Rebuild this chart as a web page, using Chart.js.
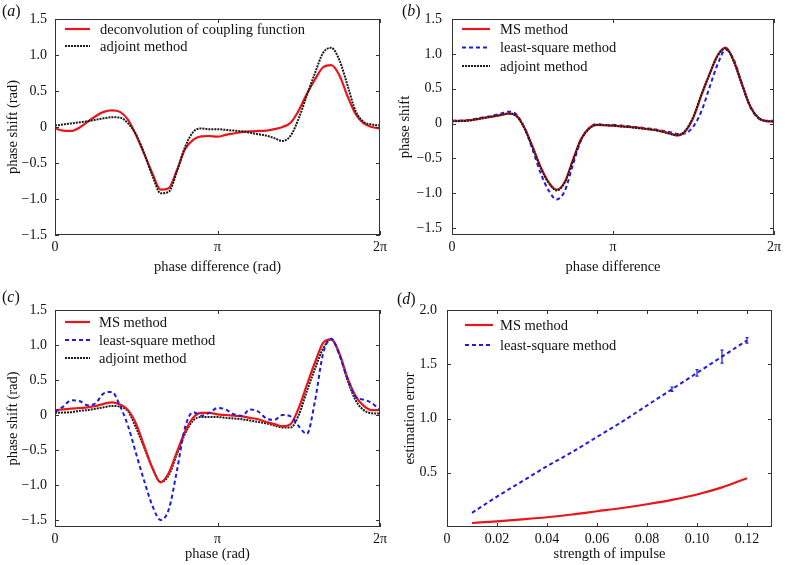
<!DOCTYPE html>
<html>
<head>
<meta charset="utf-8">
<script src="https://cdn.jsdelivr.net/npm/chart.js@4.4.0/dist/chart.umd.min.js"></script>
<style>
  body { margin: 0; background: #fff; width: 785px; height: 565px; position: relative; overflow: hidden; }
  canvas { position: absolute; }
  .tag { position: absolute; font: 16px "Liberation Serif", serif; line-height: 16px; color: #111; }
</style>
</head>
<body>
<canvas id="pa" width="392" height="280" style="left:0;top:0"></canvas>
<canvas id="pb" width="393" height="280" style="left:392px;top:0"></canvas>
<canvas id="pc" width="392" height="285" style="left:0;top:280px"></canvas>
<canvas id="pd" width="395" height="285" style="left:390px;top:280px"></canvas>
<div class="tag" style="left:2px;top:3px">(<i>a</i>)</div>
<div class="tag" style="left:402px;top:3px">(<i>b</i>)</div>
<div class="tag" style="left:2px;top:289px">(<i>c</i>)</div>
<div class="tag" style="left:397px;top:291px">(<i>d</i>)</div>
<script>
// phase in units of pi
const phase = [0, 0.05, 0.1, 0.15, 0.2, 0.25, 0.3, 0.35, 0.4, 0.45, 0.5, 0.55, 0.6, 0.65, 0.7, 0.75, 0.8, 0.85, 0.9, 0.95,
  1, 1.05, 1.1, 1.15, 1.2, 1.25, 1.3, 1.35, 1.4, 1.45, 1.5, 1.55, 1.6, 1.65, 1.7, 1.75, 1.8, 1.85, 1.9, 1.95, 2];

// (a)
const aDeconv = [-0.02, -0.05, -0.055, -0.01, 0.07, 0.15, 0.21, 0.23, 0.21, 0.10, -0.12, -0.38, -0.65, -0.87, -0.85, -0.60, -0.31, -0.18, -0.13, -0.125,
  -0.135, -0.11, -0.09, -0.07, -0.06, -0.055, -0.05, -0.03, 0.0, 0.06, 0.23, 0.46, 0.66, 0.83, 0.86, 0.72, 0.43, 0.18, 0.05, 0.0, -0.02];
const aAdjoint = [0.02, 0.035, 0.05, 0.065, 0.08, 0.10, 0.12, 0.135, 0.13, 0.05, -0.11, -0.37, -0.68, -0.92, -0.90, -0.62, -0.28, -0.07, -0.02, -0.03,
  -0.03, -0.04, -0.05, -0.06, -0.08, -0.10, -0.12, -0.155, -0.195, -0.12, 0.12, 0.44, 0.75, 1.03, 1.10, 0.93, 0.58, 0.22, 0.07, 0.035, 0.02];

// (b)
const bMS = [0.04, 0.04, 0.045, 0.06, 0.08, 0.10, 0.12, 0.14, 0.11, -0.06, -0.33, -0.62, -0.84, -0.95, -0.84, -0.53, -0.23, -0.07, -0.02, -0.025,
  -0.03, -0.04, -0.05, -0.06, -0.075, -0.09, -0.11, -0.14, -0.17, -0.11, 0.09, 0.41, 0.71, 0.98, 1.09, 0.90, 0.57, 0.26, 0.09, 0.035, 0.03];
const bLS = [0.04, 0.04, 0.05, 0.07, 0.09, 0.11, 0.14, 0.17, 0.13, -0.06, -0.37, -0.71, -0.96, -1.09, -0.97, -0.60, -0.25, -0.07, -0.01, -0.02,
  -0.02, -0.03, -0.04, -0.05, -0.065, -0.08, -0.10, -0.12, -0.15, -0.14, -0.04, 0.18, 0.52, 0.85, 1.06, 0.92, 0.58, 0.25, 0.08, 0.04, 0.04];
const bAdjoint = [0.03, 0.035, 0.04, 0.06, 0.08, 0.10, 0.12, 0.145, 0.11, -0.07, -0.34, -0.63, -0.85, -0.96, -0.85, -0.54, -0.24, -0.08, -0.02, -0.025,
  -0.03, -0.04, -0.05, -0.065, -0.075, -0.09, -0.115, -0.145, -0.17, -0.10, 0.10, 0.42, 0.71, 0.97, 1.08, 0.89, 0.57, 0.26, 0.09, 0.035, 0.03];

// (c)
const cMS = [0.07, 0.08, 0.09, 0.10, 0.11, 0.13, 0.16, 0.18, 0.15, 0.07, -0.13, -0.45, -0.76, -0.96, -0.83, -0.53, -0.24, -0.04, 0.03, 0.03,
  0.01, 0.0, -0.01, -0.02, -0.04, -0.06, -0.10, -0.13, -0.16, -0.13, 0.10, 0.43, 0.75, 1.03, 1.08, 0.88, 0.53, 0.27, 0.13, 0.07, 0.07];
const cLS = [0.04, 0.12, 0.21, 0.20, 0.14, 0.17, 0.31, 0.33, 0.13, -0.16, -0.56, -0.95, -1.30, -1.50, -1.35, -0.80, -0.18, 0.04, -0.01, 0.03,
  0.10, 0.08, 0.01, -0.01, 0.08, 0.05, -0.05, -0.07, 0.0, -0.02, -0.16, -0.27, 0.20, 0.88, 1.09, 0.86, 0.52, 0.26, 0.22, 0.17, 0.07];
const cAdjoint = [0.03, 0.035, 0.04, 0.06, 0.07, 0.09, 0.11, 0.13, 0.12, 0.05, -0.19, -0.47, -0.76, -0.96, -0.86, -0.56, -0.27, -0.08, -0.03, -0.03,
  -0.03, -0.04, -0.05, -0.06, -0.08, -0.10, -0.12, -0.15, -0.18, -0.18, 0.0, 0.34, 0.66, 0.95, 1.08, 0.87, 0.50, 0.21, 0.07, 0.025, 0.02];

// (d)
const impulse = [0.01, 0.02, 0.03, 0.04, 0.05, 0.06, 0.07, 0.08, 0.09, 0.10, 0.11, 0.12];
const dMS = [0.037, 0.052, 0.07, 0.09, 0.115, 0.145, 0.175, 0.21, 0.25, 0.30, 0.365, 0.45];
const dLS = [0.13, 0.28, 0.42, 0.56, 0.69, 0.83, 0.97, 1.12, 1.27, 1.42, 1.57, 1.72];
const dLSerr = [0, 0, 0, 0, 0, 0, 0, 0, 0.02, 0.03, 0.06, 0.025];

const phaseTicks = [0, 1, 2];
const phaseLabels = ['0', 'π', '2π'];
const shiftTicks = [-1.5, -1, -0.5, 0, 0.5, 1, 1.5];
const impulseTicks = [0, 0.02, 0.04, 0.06, 0.08, 0.10, 0.12];
const errorTicks = [0.5, 1, 1.5, 2];

const RED = '#e8161b', BLUE = '#1c1ce0', BLACK = '#1a1a1a';
const FONT = '"Liberation Serif", serif';

const pts = (xs, ys) => xs.map((x, i) => ({ x: x, y: ys[i] }));

// box + inward ticks on all four sides
const frame = {
  id: 'frame',
  afterDraw(chart) {
    const { ctx, chartArea: a, scales: { x, y } } = chart;
    ctx.save();
    ctx.strokeStyle = '#333';
    ctx.lineWidth = 1;
    ctx.strokeRect(a.left + 0.5, a.top + 0.5, a.width - 1, a.height - 1);
    ctx.beginPath();
    x.ticks.forEach(t => {
      const px = Math.round(x.getPixelForValue(t.value)) + 0.5;
      ctx.moveTo(px, a.bottom); ctx.lineTo(px, a.bottom - 4);
      ctx.moveTo(px, a.top); ctx.lineTo(px, a.top + 4);
    });
    y.ticks.forEach(t => {
      const py = Math.round(y.getPixelForValue(t.value)) + 0.5;
      ctx.moveTo(a.left, py); ctx.lineTo(a.left + 4, py);
      ctx.moveTo(a.right, py); ctx.lineTo(a.right - 4, py);
    });
    ctx.stroke();
    ctx.restore();
  }
};

// legend drawn inside the top-left of the plot
const insideLegend = {
  id: 'insideLegend',
  afterDraw(chart, args, o) {
    const { ctx, chartArea: a } = chart;
    ctx.save();
    ctx.font = '14.5px ' + FONT;
    ctx.textBaseline = 'middle';
    ctx.fillStyle = '#111';
    chart.data.datasets.forEach((d, i) => {
      const y = a.top + o.top + i * o.gap;
      ctx.strokeStyle = d.borderColor;
      ctx.lineWidth = d.borderWidth;
      ctx.setLineDash(d.borderDash || []);
      ctx.beginPath();
      ctx.moveTo(a.left + o.x0, y);
      ctx.lineTo(a.left + o.x1, y);
      ctx.stroke();
      ctx.setLineDash([]);
      ctx.fillText(d.label, a.left + o.tx, y + 1);
    });
    ctx.restore();
  }
};

// vertical error bars on one dataset
const errBars = {
  id: 'errBars',
  afterDatasetsDraw(chart, args, o) {
    if (!o.err) return;
    const { ctx, scales: { x, y } } = chart;
    const ds = chart.data.datasets[o.index];
    ctx.save();
    ctx.strokeStyle = ds.borderColor;
    ctx.lineWidth = 1.2;
    ds.data.forEach((p, i) => {
      const e = o.err[i];
      if (!e) return;
      const px = x.getPixelForValue(p.x);
      const y1 = y.getPixelForValue(p.y - e), y2 = y.getPixelForValue(p.y + e);
      ctx.beginPath();
      ctx.moveTo(px, y1); ctx.lineTo(px, y2);
      ctx.moveTo(px - 1.5, y1); ctx.lineTo(px + 1.5, y1);
      ctx.moveTo(px - 1.5, y2); ctx.lineTo(px + 1.5, y2);
      ctx.stroke();
    });
    ctx.restore();
  }
};

function line(label, xs, ys, color, dash, order) {
  return {
    label: label,
    data: pts(xs, ys),
    borderColor: color,
    backgroundColor: color,
    borderWidth: color === RED ? 2.2 : 2,
    borderDash: dash,
    pointRadius: 0,
    cubicInterpolationMode: 'monotone',
    fill: false,
    order: order
  };
}

function makeChart(id, cfg) {
  const c = cfg;
  return new Chart(document.getElementById(id), {
    type: 'line',
    data: { datasets: c.datasets },
    options: {
      responsive: false,
      animation: false,
      layout: { padding: { top: c.padTop, right: c.padRight, left: 0, bottom: 0 } },
      plugins: {
        legend: { display: false },
        tooltip: { enabled: false },
        insideLegend: c.legend,
        errBars: c.errBars || {}
      },
      scales: {
        x: {
          type: 'linear',
          min: c.xMin, max: c.xMax,
          afterBuildTicks: s => { s.ticks = c.xTicks.map(v => ({ value: v })); },
          afterFit: s => { s.height = c.xH; },
          grid: { display: false, drawTicks: false },
          border: { display: false },
          ticks: {
            autoSkip: false, maxRotation: 0, padding: 4,
            color: '#111', font: { family: FONT, size: 14 },
            callback: c.xFmt
          },
          title: {
            display: true, text: c.xTitle, color: '#111',
            font: { family: FONT, size: 14.5 },
            padding: { top: 0, bottom: c.xTitlePad }
          }
        },
        y: {
          min: c.yMin, max: c.yMax,
          afterBuildTicks: s => { s.ticks = c.yTicks.map(v => ({ value: v })); },
          afterFit: s => { s.width = c.yW; },
          grid: { display: false, drawTicks: false },
          border: { display: false },
          ticks: {
            padding: c.yTickPad,
            color: '#111', font: { family: FONT, size: 14 },
            callback: c.yFmt
          },
          title: {
            display: true, text: c.yTitle, color: '#111',
            font: { family: FONT, size: 14.5 },
            padding: { top: c.yTitlePad, bottom: 0 }
          }
        }
      }
    },
    plugins: [frame, insideLegend, errBars]
  });
}

const phaseFmt = v => phaseLabels[phaseTicks.indexOf(v)] || '';
const shiftFmt = v => v === 0 ? '0' : (v < 0 ? '\u2212' : '') + Math.abs(v).toFixed(1);

makeChart('pa', {
  datasets: [
    line('deconvolution of coupling function', phase, aDeconv, RED, [], 1),
    line('adjoint method', phase, aAdjoint, BLACK, [2, 1], 0)
  ],
  padTop: 19, padRight: 12, yW: 55, xH: 45,
  xMin: 0, xMax: 2, xTicks: phaseTicks, xFmt: phaseFmt, xTitle: 'phase difference (rad)', xTitlePad: 4,
  yMin: -1.5, yMax: 1.5, yTicks: shiftTicks, yFmt: shiftFmt, yTitle: 'phase shift (rad)', yTitlePad: 4, yTickPad: 8,
  legend: { x0: 10, x1: 35, tx: 45, top: 10, gap: 17 }
});

makeChart('pb', {
  datasets: [
    line('MS method', phase, bMS, RED, [], 1),
    line('least-square method', phase, bLS, BLUE, [4, 3], 2),
    line('adjoint method', phase, bAdjoint, BLACK, [2, 1], 0)
  ],
  padTop: 19, padRight: 8, yW: 60, xH: 45,
  xMin: 0, xMax: 2, xTicks: phaseTicks, xFmt: phaseFmt, xTitle: 'phase difference', xTitlePad: 4,
  yMin: -1.6, yMax: 1.5, yTicks: shiftTicks, yFmt: shiftFmt, yTitle: 'phase shift', yTitlePad: 4, yTickPad: 10,
  legend: { x0: 10, x1: 38, tx: 48, top: 10, gap: 18.5 }
});

makeChart('pc', {
  datasets: [
    line('MS method', phase, cMS, RED, [], 1),
    line('least-square method', phase, cLS, BLUE, [4, 3], 0),
    line('adjoint method', phase, cAdjoint, BLACK, [2, 1], 2)
  ],
  padTop: 30, padRight: 12, yW: 55, xH: 38,
  xMin: 0, xMax: 2, xTicks: phaseTicks, xFmt: phaseFmt, xTitle: 'phase (rad)', xTitlePad: 2,
  yMin: -1.6, yMax: 1.5, yTicks: shiftTicks, yFmt: shiftFmt, yTitle: 'phase shift (rad)', yTitlePad: 4, yTickPad: 8,
  legend: { x0: 10, x1: 35, tx: 44, top: 12, gap: 18 }
});

makeChart('pd', {
  datasets: [
    line('MS method', impulse, dMS, RED, [], 1),
    line('least-square method', impulse, dLS, BLUE, [4, 3], 0)
  ],
  padTop: 30, padRight: 13, yW: 57, xH: 38,
  xMin: 0, xMax: 0.13, xTicks: impulseTicks, xFmt: v => v === 0 ? '0' : v.toFixed(2), xTitle: 'strength of impulse', xTitlePad: 2,
  yMin: 0, yMax: 2, yTicks: errorTicks, yFmt: v => v.toFixed(1), yTitle: 'estimation error', yTitlePad: 11, yTickPad: 10,
  legend: { x0: 18, x1: 46, tx: 53, top: 15, gap: 20 },
  errBars: { index: 1, err: dLSerr }
});
</script>
</body>
</html>
